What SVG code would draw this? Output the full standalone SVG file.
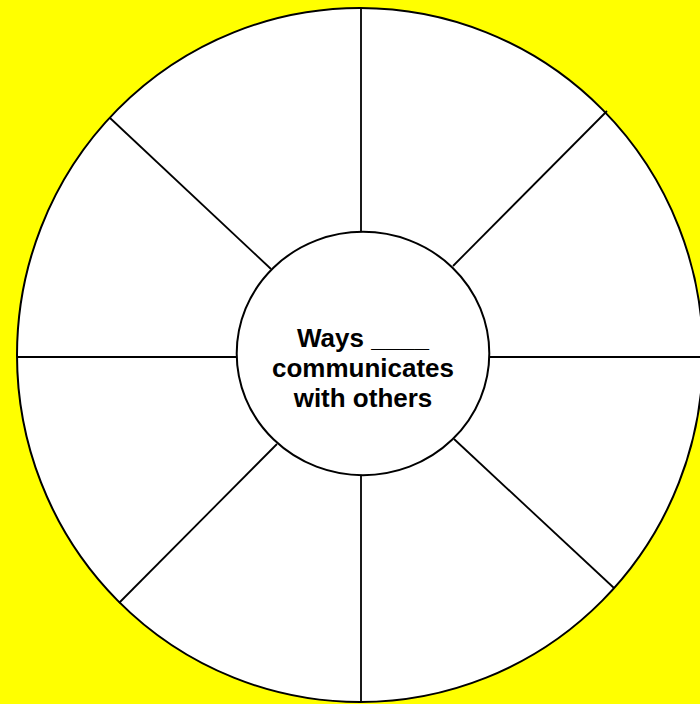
<svg xmlns="http://www.w3.org/2000/svg" width="700" height="704" viewBox="0 0 700 704">
<style>
.ln{stroke:#000;stroke-width:1.8;fill:none}
.c{fill:#fff;stroke:#000;stroke-width:2}
.t{font-family:"Liberation Sans",Arial,sans-serif;font-weight:bold;font-size:26px;fill:#000;text-anchor:middle}
</style>
<rect x="0" y="0" width="700" height="704" fill="#ffff00"/>
<g id="outer"><ellipse class="c" cx="360" cy="355" rx="343" ry="347"/></g>
<g id="connectors">
<line class="ln" x1="361" y1="8" x2="361" y2="232"/>
<line class="ln" x1="361" y1="475" x2="361" y2="702"/>
<line class="ln" x1="17" y1="357" x2="237" y2="357"/>
<line class="ln" x1="489" y1="357" x2="702" y2="357"/>
<line class="ln" x1="110" y1="118" x2="271" y2="269"/>
<line class="ln" x1="607" y1="111" x2="453" y2="266"/>
<line class="ln" x1="119" y1="603" x2="277" y2="444"/>
<line class="ln" x1="614" y1="588" x2="454" y2="439"/>
</g>
<g id="center">
<ellipse class="c" cx="363" cy="353.5" rx="126.3" ry="121.7"/>
<text class="t" x="363" y="347">Ways ____</text>
<text class="t" x="363" y="377">communicates</text>
<text class="t" x="363" y="407">with others</text>
</g>
</svg>
